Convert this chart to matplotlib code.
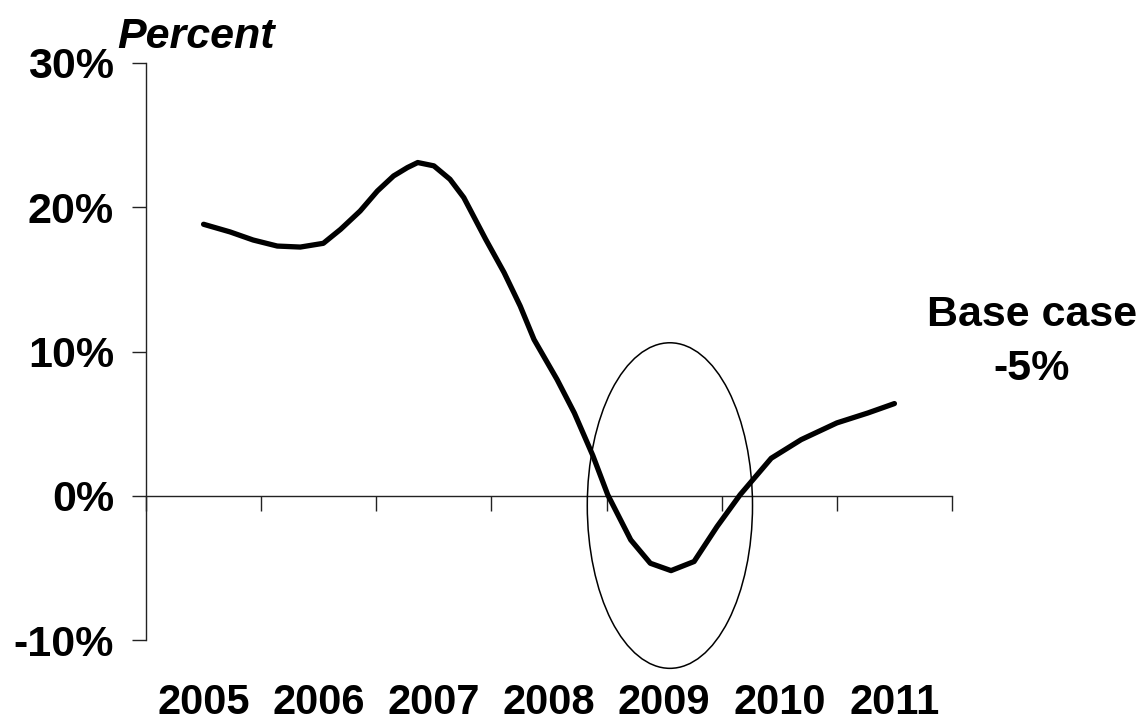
import matplotlib
matplotlib.use("Agg")
import matplotlib.pyplot as plt
from matplotlib.patches import Ellipse

plt.rcParams['font.family'] = ['Liberation Sans', 'DejaVu Sans']

# ---- data ----
years = ['2005', '2006', '2007', '2008', '2009', '2010', '2011']
x_years = [2005.00, 2005.23, 2005.43, 2005.64, 2005.84, 2006.04, 2006.19, 2006.36,
           2006.51, 2006.65, 2006.77, 2006.86, 2007.00, 2007.14, 2007.26, 2007.45,
           2007.61, 2007.75, 2007.87, 2008.07, 2008.22, 2008.38, 2008.51, 2008.71,
           2008.88, 2009.06, 2009.26, 2009.46, 2009.66, 2009.93, 2010.19, 2010.50,
           2010.77, 2011.00]
growth = [18.82, 18.29, 17.73, 17.31, 17.24, 17.5, 18.47, 19.74,
          21.13, 22.17, 22.75, 23.1, 22.87, 21.94, 20.67, 17.78,
          15.47, 13.15, 10.83, 8.06, 5.74, 2.8, 0.07, -3.06,
          -4.68, -5.19, -4.56, -2.13, 0.07, 2.6, 3.89, 5.05,
          5.74, 6.39]
y_ticks = [-10, 0, 10, 20, 30]
y_tick_labels = ['-10%', '0%', '10%', '20%', '30%']
ellipse_center = (2009.05, -0.68)
ellipse_size = (1.435, 22.57)
annotation = 'Base case\n-5%'

# ---- figure ----
W, H = 1139, 725
fig = plt.figure(figsize=(W / 100, H / 100), dpi=100)
ax = fig.add_axes([146 / W, 85 / H, 806 / W, 577 / H])

base = int(years[0])
xs = [x - base for x in x_years]
ax.plot(xs, growth, color='black', lw=3.8, solid_capstyle='round',
        solid_joinstyle='round', zorder=3)

ell = Ellipse((ellipse_center[0] - base, ellipse_center[1]), ellipse_size[0],
              ellipse_size[1], fill=False, edgecolor='black', lw=1.1, zorder=4,
              clip_on=False)
ax.add_patch(ell)

ax.set_xlim(-0.5, len(years) - 0.5)
ax.set_ylim(-10, 30)

for s in ['top', 'right']:
    ax.spines[s].set_visible(False)
ax.spines['bottom'].set_position(('data', 0))
for s in ['left', 'bottom']:
    ax.spines[s].set_linewidth(1.0)
    ax.spines[s].set_color('#222222')

ax.set_xticks([i - 0.5 for i in range(len(years) + 1)])
ax.tick_params(axis='x', direction='out', length=11, width=1.0, color='#222222',
               labelbottom=False)

ax.set_yticks(y_ticks)
ax.set_yticklabels(y_tick_labels)
ax.tick_params(axis='y', direction='out', length=10, width=1.0, color='#222222',
               pad=13, labelsize=31)
for lab in ax.get_yticklabels():
    lab.set_fontweight('bold')

sec = ax.secondary_xaxis('bottom')
sec.set_xticks(range(len(years)))
sec.set_xticklabels(years)
sec.tick_params(length=0, pad=31, labelsize=30)
sec.spines['bottom'].set_visible(False)
for lab in sec.get_xticklabels():
    lab.set_fontweight('bold')

fig.text(117 / W, 1 - 48 / H, 'Percent', fontsize=31, fontweight='bold',
         fontstyle='italic', ha='left', va='baseline')

fig.text(1032 / W, 1 - 380 / H, annotation, fontsize=31, fontweight='bold',
         ha='center', va='baseline', multialignment='center', linespacing=1.44)

fig.savefig('out.png', dpi=100, facecolor='white')
